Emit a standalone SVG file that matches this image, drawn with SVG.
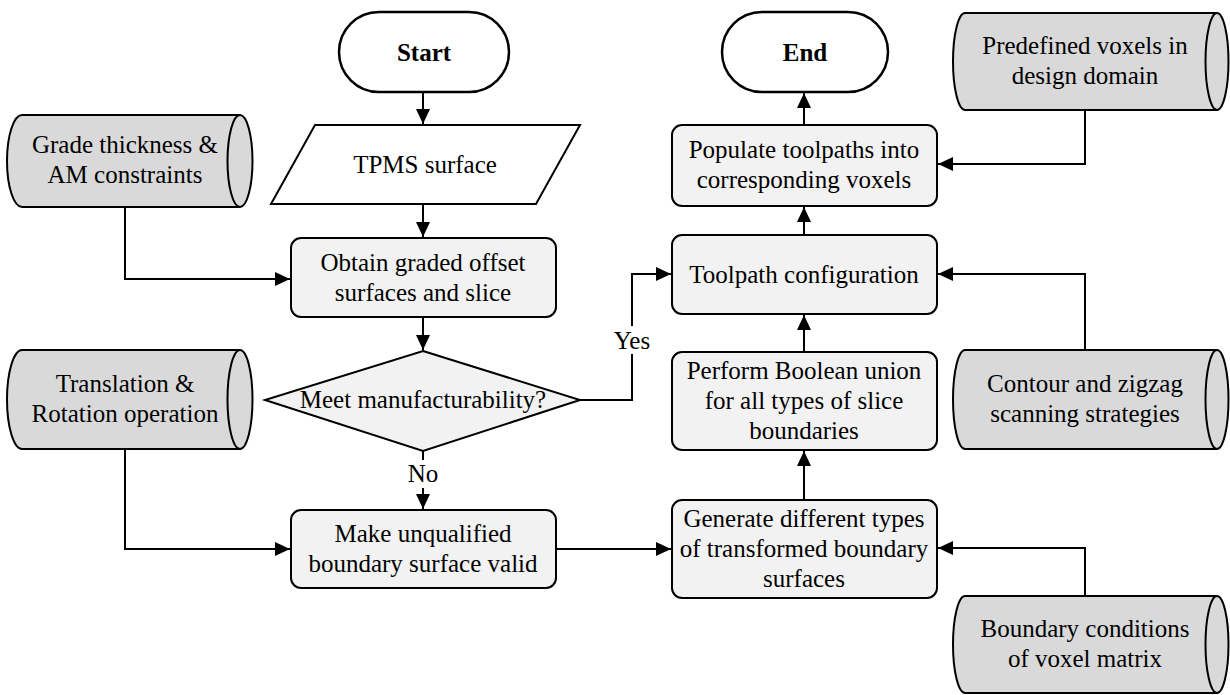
<svg xmlns="http://www.w3.org/2000/svg" width="1230" height="695" viewBox="0 0 1230 695">
<defs>
<style>
text{font-family:'Liberation Serif',serif;font-size:25px;fill:#000;text-anchor:middle}
.b{font-weight:bold}
.box{fill:#f2f2f2;stroke:#000;stroke-width:2}
.term{fill:#fff;stroke:#000;stroke-width:2.5}
.cyl{fill:#d9d9d9;stroke:#000;stroke-width:2}
.cyli{fill:none;stroke:#000;stroke-width:2}
.con{fill:none;stroke:#000;stroke-width:2;marker-end:url(#ah)}
.lbl{fill:#fff;stroke:none}
</style>
<marker id="ah" markerUnits="userSpaceOnUse" markerWidth="16" markerHeight="14" refX="15" refY="7" orient="auto">
<path d="M0,0 L15,7 L0,14 Z" fill="#000"/>
</marker>
</defs>

<g id="connectors">
<path class="con" d="M423,92 V124"/>
<path class="con" d="M423,204 V237"/>
<path class="con" d="M125,207 V279 H290"/>
<path class="con" d="M423,317 V350"/>
<path class="con" d="M423,451 V509"/>
<rect class="lbl" x="408" y="460" width="30" height="28"/>
<text x="423" y="482" font-family="Liberation Serif, serif">No</text>
<path class="con" d="M580,400 H632 V274 H671"/>
<rect class="lbl" x="612" y="326" width="40" height="28"/>
<text x="632" y="349" font-family="Liberation Serif, serif">Yes</text>
<path class="con" d="M125,449 V549 H290"/>
<path class="con" d="M556,549 H671"/>
<path class="con" d="M1085,596 V548 H938"/>
<path class="con" d="M804,500 V451"/>
<path class="con" d="M804,352 V315"/>
<path class="con" d="M1085,350 V274 H938"/>
<path class="con" d="M804,235 V207"/>
<path class="con" d="M1085,110 V164 H938"/>
<path class="con" d="M804,125 V93"/>
</g>

<g font-family="Liberation Serif, serif">
<g id="start">
<rect class="term" x="339" y="12" width="170" height="80" rx="40"/>
<text class="b" x="424" y="61">Start</text>
</g>

<g id="end">
<rect class="term" x="722" y="12" width="166" height="80" rx="40"/>
<text class="b" x="805" y="61">End</text>
</g>

<g id="tpms">
<polygon points="315,125 580,125 536,204 271,204" fill="#fff" stroke="#000" stroke-width="2"/>
<text x="425" y="173">TPMS surface</text>
</g>

<g id="obtain">
<rect class="box" x="291" y="238" width="265" height="79" rx="10"/>
<text x="423" y="271">Obtain graded offset</text>
<text x="423" y="301">surfaces and slice</text>
</g>

<g id="meet">
<polygon class="box" points="423,351 580,400 423,451 265,400"/>
<text x="423" y="408">Meet manufacturability?</text>
</g>

<g id="make">
<rect class="box" x="291" y="510" width="265" height="78" rx="10"/>
<text x="423" y="542">Make unqualified</text>
<text x="423" y="572">boundary surface valid</text>
</g>

<g id="generate">
<rect class="box" x="672" y="500" width="265" height="98" rx="10"/>
<text x="804" y="527">Generate different types</text>
<text x="804" y="557">of transformed boundary</text>
<text x="804" y="587">surfaces</text>
</g>

<g id="perform">
<rect class="box" x="672" y="352" width="265" height="98" rx="10"/>
<text x="804" y="379">Perform Boolean union</text>
<text x="804" y="409">for all types of slice</text>
<text x="804" y="439">boundaries</text>
</g>

<g id="toolpath">
<rect class="box" x="672" y="235" width="265" height="79" rx="10"/>
<text x="804" y="283">Toolpath configuration</text>
</g>

<g id="populate">
<rect class="box" x="672" y="125" width="265" height="81" rx="10"/>
<text x="804" y="158">Populate toolpaths into</text>
<text x="804" y="188">corresponding voxels</text>
</g>

<g id="grade">
<path class="cyl" d="M22,115 H240 A12.5,46 0 0 1 240,207 H22 A15,46 0 0 1 22,115 Z"/>
<path class="cyli" d="M240,115 A12.5,46 0 0 0 240,207"/>
<text x="125" y="153">Grade thickness &amp;</text>
<text x="125" y="183">AM constraints</text>
</g>

<g id="translation">
<path class="cyl" d="M22,350 H240 A12.5,49.5 0 0 1 240,449 H22 A15,49.5 0 0 1 22,350 Z"/>
<path class="cyli" d="M240,350 A12.5,49.5 0 0 0 240,449"/>
<text x="125" y="392">Translation &amp;</text>
<text x="125" y="422">Rotation operation</text>
</g>

<g id="predefined">
<path class="cyl" d="M965,13 H1217 A11.5,48.5 0 0 1 1217,110 H965 A12,48.5 0 0 1 965,13 Z"/>
<path class="cyli" d="M1217,13 A11.5,48.5 0 0 0 1217,110"/>
<text x="1085" y="54">Predefined voxels in</text>
<text x="1085" y="84">design domain</text>
</g>

<g id="contour">
<path class="cyl" d="M965,350 H1217 A11.5,49.5 0 0 1 1217,449 H965 A12,49.5 0 0 1 965,350 Z"/>
<path class="cyli" d="M1217,350 A11.5,49.5 0 0 0 1217,449"/>
<text x="1085" y="392">Contour and zigzag</text>
<text x="1085" y="422">scanning strategies</text>
</g>

<g id="boundary">
<path class="cyl" d="M965,596 H1217 A11.5,48.5 0 0 1 1217,693 H965 A12,48.5 0 0 1 965,596 Z"/>
<path class="cyli" d="M1217,596 A11.5,48.5 0 0 0 1217,693"/>
<text x="1085" y="637">Boundary conditions</text>
<text x="1085" y="667">of voxel matrix</text>
</g>
</g>
</svg>
